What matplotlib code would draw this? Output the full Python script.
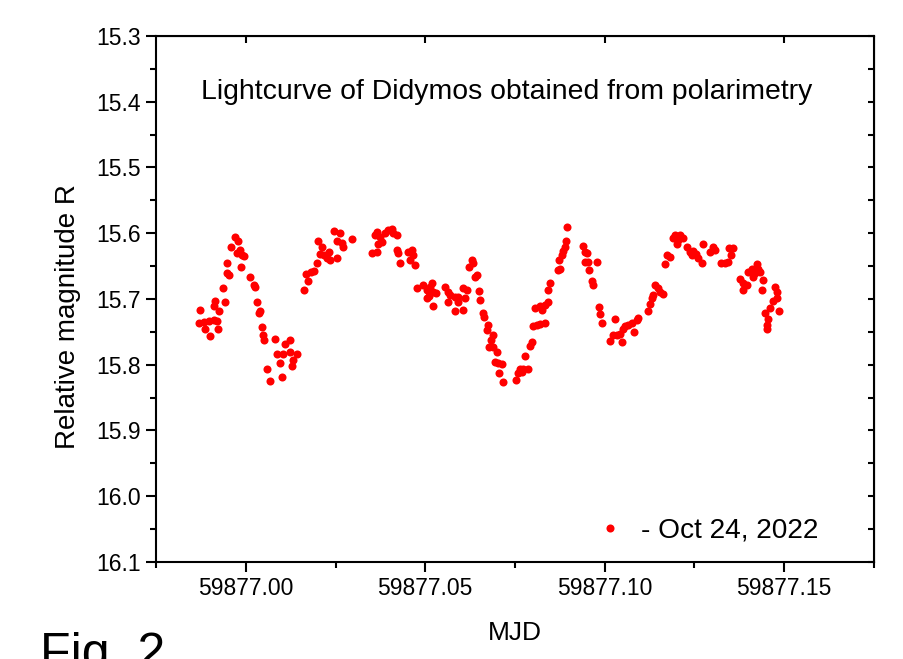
import numpy as np
import matplotlib
matplotlib.use("Agg")
import matplotlib.pyplot as plt
from matplotlib.ticker import MultipleLocator, FormatStrFormatter

plt.rcParams['font.family'] = ['Liberation Sans', 'DejaVu Sans']

# MJD - 59877 (days)
dt = [
    -0.01266, -0.01311, -0.01171, -0.01032, -0.00876, -0.00801, -0.01143, -0.01004, -0.00773, -0.00737,
    -0.00893, -0.00848, -0.00586, -0.00642, -0.00531, -0.00475, -0.00514, -0.00411, -0.00299, -0.00216,
    -0.00244, -0.00169, -0.00104, -0.00057, -0.00132, 0.00127, 0.00221, 0.00249, 0.00313, 0.00361,
    0.00389, 0.00444, 0.00480, 0.00517, 0.00815, 0.00592, 0.00684, 0.01010, 0.00870, 0.00946,
    0.01102, 0.01224, 0.01038, 0.01224, 0.01428, 0.01316, 0.01297,
    0.01614, 0.01734, 0.01687, 0.01818, 0.01893, 0.01985, 0.02060, 0.02171, 0.02311, 0.02263,
    0.02355, 0.02004, 0.02124, 0.02450,
    0.02625, 0.02550, 0.02673, 0.02717, 0.02533, 0.02951,
    0.03600, 0.03648, 0.03740, 0.03787, 0.03879, 0.03971, 0.04065, 0.04110, 0.04205, 0.03692,
    0.03508, 0.03648, 0.04205, 0.04249, 0.04297,
    0.04528, 0.04623, 0.04667, 0.04575, 0.04714,
    0.04762, 0.04946, 0.05040, 0.05132, 0.05196, 0.05224, 0.05299, 0.05040, 0.05113, 0.05224,
    0.05550, 0.05642, 0.05689, 0.05642, 0.05829, 0.05921, 0.05829, 0.06060, 0.05921, 0.06107,
    0.06155, 0.06060,
    0.06294, 0.06338, 0.06227, 0.06386, 0.06433, 0.06497, 0.06525, 0.06600, 0.06636,
    0.06756, 0.06712, 0.06879, 0.06823, 0.06776, 0.06896, 0.06990, 0.06943, 0.07035, 0.07129,
    0.07054, 0.07174,
    0.07528, 0.07592, 0.07639, 0.07731, 0.07871, 0.07687, 0.07779, 0.07918, 0.07965,
    0.08010, 0.08104, 0.08196, 0.08336, 0.08057, 0.08196, 0.08244, 0.08336, 0.08411, 0.08428,
    0.08475,
    0.08689, 0.08754, 0.08734, 0.08801, 0.08845, 0.08893, 0.08921, 0.08957,
    0.09386, 0.09450, 0.09514, 0.09450, 0.09542, 0.09792, 0.09570, 0.09637, 0.09681, 0.09840,
    0.09868, 0.09932,
    0.10286, 0.10146, 0.10238, 0.10333, 0.10472, 0.10425, 0.10517, 0.10564, 0.10656, 0.10751,
    0.10815, 0.10890, 0.10935,
    0.11213, 0.11260, 0.11308, 0.11352, 0.11400, 0.11492, 0.11539, 0.11631,
    0.11678, 0.11726, 0.11818, 0.11893, 0.11957, 0.12004, 0.12096, 0.12171, 0.12049,
    0.12283, 0.12375, 0.12422, 0.12467, 0.12542, 0.12606, 0.12701, 0.12728,
    0.12932, 0.13024, 0.13071, 0.13230, 0.13350, 0.13425, 0.13461, 0.13581, 0.13517,
    0.13768, 0.13859, 0.13843, 0.13954, 0.13999, 0.14093, 0.14138, 0.14233, 0.14277, 0.14325,
    0.14185, 0.14400, 0.14372,
    0.14742, 0.14790, 0.14807, 0.14695, 0.14854, 0.14603, 0.14464, 0.14556, 0.14528, 0.14511,
]

# relative magnitude R
mag = [
    15.717, 15.736, 15.735, 15.733, 15.732, 15.733, 15.745, 15.757, 15.745, 15.719,
    15.711, 15.703, 15.705, 15.684, 15.661, 15.664, 15.646, 15.621, 15.606, 15.612,
    15.630, 15.626, 15.633, 15.635, 15.652, 15.666, 15.679, 15.682, 15.705, 15.722,
    15.719, 15.742, 15.755, 15.762, 15.761, 15.807, 15.824, 15.819, 15.784, 15.797,
    15.768, 15.762, 15.783, 15.781, 15.783, 15.793, 15.802,
    15.687, 15.673, 15.662, 15.659, 15.658, 15.646, 15.631, 15.633, 15.628, 15.638,
    15.641, 15.612, 15.621, 15.596,
    15.599, 15.612, 15.615, 15.621, 15.637, 15.609,
    15.603, 15.598, 15.606, 15.613, 15.600, 15.595, 15.594, 15.600, 15.603, 15.616,
    15.630, 15.628, 15.626, 15.630, 15.645,
    15.628, 15.625, 15.633, 15.641, 15.649,
    15.683, 15.679, 15.687, 15.682, 15.676, 15.689, 15.691, 15.699, 15.696, 15.711,
    15.682, 15.689, 15.694, 15.704, 15.697, 15.697, 15.718, 15.717, 15.704, 15.699,
    15.687, 15.684,
    15.641, 15.646, 15.651, 15.666, 15.664, 15.688, 15.702, 15.722, 15.727,
    15.740, 15.747, 15.755, 15.763, 15.773, 15.773, 15.780, 15.796, 15.797, 15.799,
    15.812, 15.826,
    15.823, 15.813, 15.806, 15.806, 15.806, 15.811, 15.786, 15.771, 15.765,
    15.741, 15.740, 15.738, 15.737, 15.714, 15.711, 15.717, 15.709, 15.704, 15.686,
    15.676,
    15.656, 15.654, 15.641, 15.633, 15.627, 15.621, 15.612, 15.590,
    15.620, 15.628, 15.630, 15.644, 15.644, 15.644, 15.656, 15.672, 15.679, 15.712,
    15.723, 15.736,
    15.730, 15.764, 15.755, 15.755, 15.765, 15.753, 15.745, 15.741, 15.740, 15.737,
    15.750, 15.732, 15.729,
    15.718, 15.707, 15.699, 15.694, 15.679, 15.684, 15.689, 15.693,
    15.647, 15.633, 15.636, 15.608, 15.603, 15.616, 15.603, 15.608, 15.610,
    15.621, 15.628, 15.633, 15.627, 15.631, 15.638, 15.645, 15.617,
    15.628, 15.621, 15.626, 15.646, 15.645, 15.644, 15.623, 15.623, 15.633,
    15.670, 15.675, 15.687, 15.679, 15.659, 15.655, 15.666, 15.647, 15.654, 15.659,
    15.661, 15.671, 15.686,
    15.682, 15.689, 15.699, 15.703, 15.718, 15.714, 15.722, 15.730, 15.740, 15.746,
]

mjd = 59877.0 + np.array(dt)

fig = plt.figure(figsize=(9.04, 6.59), dpi=100)
ax = fig.add_axes([0.1726, 0.1472, 0.7942, 0.7982])

ax.plot(mjd, mag, 'o', color='red', ms=5.8, mec='none', label='- Oct 24, 2022')

ax.set_xlim(59876.975, 59877.175)
ax.set_ylim(16.1, 15.3)
ax.xaxis.set_major_locator(MultipleLocator(0.05))
ax.xaxis.set_minor_locator(MultipleLocator(0.025))
ax.xaxis.set_major_formatter(FormatStrFormatter('%.2f'))
ax.yaxis.set_major_locator(MultipleLocator(0.1))
ax.yaxis.set_minor_locator(MultipleLocator(0.05))
ax.yaxis.set_major_formatter(FormatStrFormatter('%.1f'))

for s in ax.spines.values():
    s.set_linewidth(1.5)
ax.tick_params(which='major', direction='out', length=7.5, width=1.5, labelsize=16.5, pad=3.5)
ax.tick_params(which='minor', direction='out', length=4, width=1.5)

# inward ticks on top and right
top = ax.secondary_xaxis('top')
top.xaxis.set_major_locator(MultipleLocator(0.05))
top.xaxis.set_minor_locator(MultipleLocator(0.025))
top.tick_params(which='major', direction='in', length=5, width=1.5, labeltop=False)
top.tick_params(which='minor', direction='in', length=0)
right = ax.secondary_yaxis('right')
right.yaxis.set_major_locator(MultipleLocator(0.1))
right.yaxis.set_minor_locator(MultipleLocator(0.05))
right.tick_params(which='both', direction='in', length=4.5, width=1.5, labelright=False)

ax.set_xlabel('MJD', fontsize=19)
ax.xaxis.set_label_coords(0.5, -0.112)
ax.set_ylabel('Relative magnitude R', fontsize=20)
ax.yaxis.set_label_coords(-0.105, 0.467)

ax.text(0.489, 0.893, 'Lightcurve of Didymos obtained from polarimetry',
        transform=ax.transAxes, ha='center', va='center', fontsize=20.4)

ax.legend(loc='center right', bbox_to_anchor=(0.942, 0.059), frameon=False,
          fontsize=20.2, numpoints=1, handlelength=1.0, handletextpad=0.6, borderpad=0)

fig.text(0.044, -0.0137, 'Fig. 2', fontsize=36, va='baseline', ha='left')

fig.savefig('out.png', dpi=100)
